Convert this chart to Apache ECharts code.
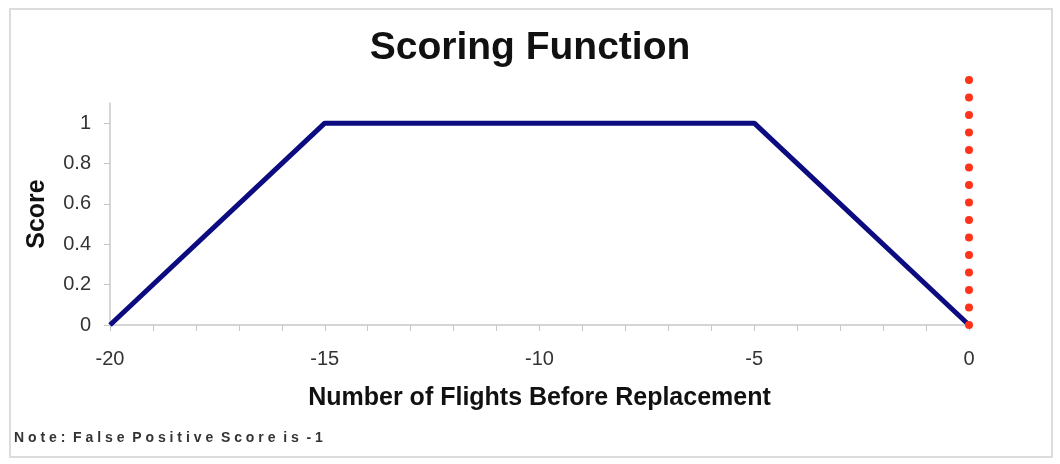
<!DOCTYPE html>
<html>
<head>
<meta charset="utf-8">
<script src="https://cdn.jsdelivr.net/npm/echarts@6/dist/echarts.min.js"></script>
<style>
  html, body { margin: 0; padding: 0; background: #fff; }
  #chart { width: 1060px; height: 464px; }
</style>
</head>
<body>
<div id="chart"></div>
<script>
// score curve: flights before replacement -> score
const flights = [-20, -15, -5, 0]
const scores = [0, 1, 1, 0]
// replacement marker at x = 0
const markerX = [0, 0]
const markerY = [0, 1.235]
const yTicks = [0, 0.2, 0.4, 0.6, 0.8, 1]

const chart = echarts.init(document.getElementById('chart'))

const font = 'Liberation Sans, Arial, sans-serif'

chart.setOption({
  animation: false,
  textStyle: { fontFamily: font },
  title: {
    text: 'Scoring Function',
    left: 'center',
    top: 24,
    textStyle: { fontSize: 39, fontWeight: 'bold', color: '#111', fontFamily: font }
  },
  graphic: [
    {
      type: 'rect',
      shape: { x: 10, y: 9, width: 1042, height: 448 },
      style: { fill: 'none', stroke: '#dcdcdc', lineWidth: 2 },
      silent: true
    },
    {
      type: 'text',
      left: 14,
      top: 431,
      style: {
        text: 'N o t e :  F a l s e  P o s i t i v e  S c o r e  i s  - 1',
        fontSize: 14,
        fontWeight: 'bold',
        fill: '#333',
        fontFamily: font
      }
    }
  ],
  grid: { left: 110, right: 91, top: 103, bottom: 139 },
  xAxis: {
    type: 'value',
    min: -20,
    max: 0,
    interval: 1,
    name: 'Number of Flights Before Replacement',
    nameLocation: 'middle',
    nameGap: 61,
    nameTextStyle: { fontSize: 25, fontWeight: 'bold', color: '#111' },
    axisLine: { lineStyle: { color: '#c8c8c8', width: 1.5 } },
    axisTick: { length: 6, lineStyle: { color: '#c8c8c8' } },
    splitLine: { show: false },
    axisLabel: {
      fontSize: 20,
      color: '#333',
      margin: 24,
      formatter: (v) => (v % 5 === 0 ? String(v) : '')
    }
  },
  yAxis: {
    type: 'value',
    min: 0,
    max: 1.1,
    interval: 0.2,
    name: 'Score',
    nameLocation: 'middle',
    nameGap: 60,
    nameRotate: 90,
    nameTextStyle: { fontSize: 25, fontWeight: 'bold', color: '#111' },
    axisLine: { show: true, onZero: false, lineStyle: { color: '#c8c8c8', width: 1.5 } },
    axisTick: { show: true, length: 6, customValues: yTicks, lineStyle: { color: '#c8c8c8' } },
    splitLine: { show: false },
    axisLabel: {
      fontSize: 20,
      color: '#333',
      margin: 19,
      customValues: yTicks
    }
  },
  series: [
    {
      name: 'score',
      type: 'line',
      data: flights.map((x, i) => [x, scores[i]]),
      symbol: 'none',
      lineStyle: { color: '#0c0c80', width: 5 },
      z: 3
    },
    {
      name: 'replacement',
      type: 'line',
      data: markerX.map((x, i) => [x, markerY[i]]),
      symbol: 'none',
      clip: false,
      lineStyle: { color: '#ff3319', width: 8, type: [0.1, 17.4], cap: 'round' },
      z: 4
    }
  ]
})
</script>
</body>
</html>
